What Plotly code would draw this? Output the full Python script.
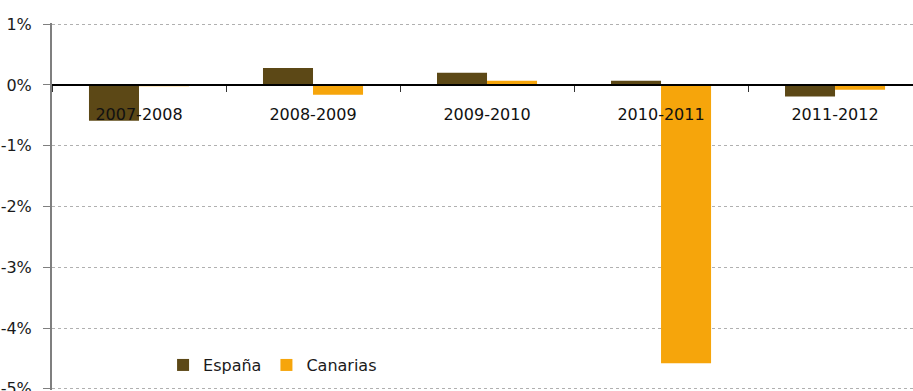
import plotly.graph_objects as go

# Periods and year-on-year variation (%) for each series
periods = ["2007-2008", "2008-2009", "2009-2010", "2010-2011", "2011-2012"]
espana = [-0.59, 0.28, 0.20, 0.07, -0.19]
canarias = [-0.02, -0.16, 0.07, -4.58, -0.08]

y_ticks = [1, 0, -1, -2, -3, -4, -5]
y_tick_labels = ["1%", "0%", "-1%", "-2%", "-3%", "-4%", "-5%"]

FONT = "DejaVu Sans"
Y_MIN, Y_MAX = -5.02, 1.02

fig = go.Figure()
fig.add_trace(go.Bar(name="España", x=periods, y=espana, marker_color="#5c4816",
                     marker_line_width=0))
fig.add_trace(go.Bar(name="Canarias", x=periods, y=canarias, marker_color="#f6a50b",
                     marker_line_width=0))

fig.update_layout(
    width=913, height=391,
    margin=dict(l=52, r=0, t=23, b=1, autoexpand=False),
    paper_bgcolor="white", plot_bgcolor="white",
    barmode="group", bargap=0.425, bargroupgap=0,
    font=dict(family=FONT, size=16, color="#1a1a1a"),
    showlegend=True,
    legend=dict(orientation="h", x=0.129, y=0.068, xanchor="left", yanchor="middle",
                bgcolor="rgba(0,0,0,0)", font=dict(size=16, color="#1a1a1a"),
                itemwidth=30, tracegroupgap=0),
    xaxis=dict(
        range=[-0.5, 4.448], automargin=False,
        anchor="free", position=(0 - Y_MIN) / (Y_MAX - Y_MIN),
        showline=True, linecolor="black", linewidth=1.5,
        ticks="outside", tickson="boundaries", ticklen=6, tickcolor="#333",
        tickfont=dict(size=16, color="#111"), ticklabelstandoff=15,
        showgrid=False, zeroline=False,
    ),
    yaxis=dict(
        range=[Y_MIN, Y_MAX], automargin=False,
        tickvals=y_ticks, ticktext=y_tick_labels,
        showline=True, linecolor="#7f7f7f", linewidth=2,
        ticks="outside", ticklen=7, tickcolor="#7f7f7f",
        tickfont=dict(size=16, color="#1a1a1a"), ticklabelstandoff=8,
        ticklabeloverflow="allow",
        showgrid=True, gridcolor="#b0b0b0", griddash="3px,3px", gridwidth=1,
        zeroline=False,
    ),
)

fig.write_html("out.html")
